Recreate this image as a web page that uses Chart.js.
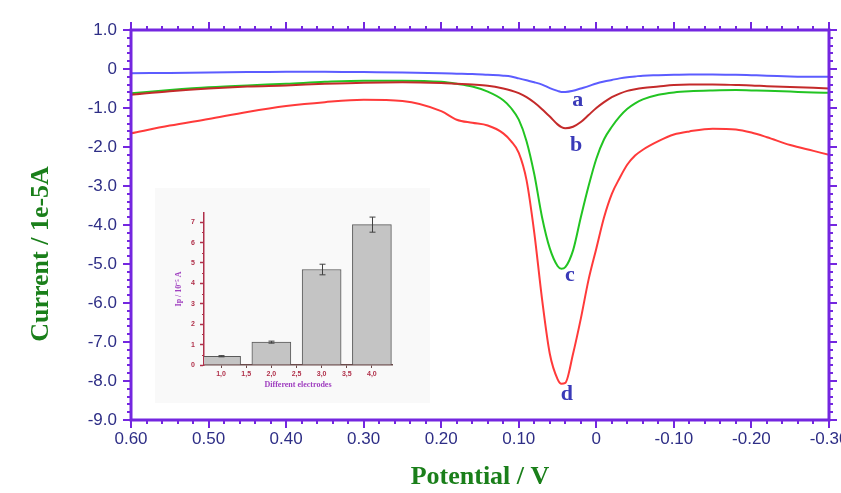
<!DOCTYPE html>
<html>
<head>
<meta charset="utf-8">
<script src="https://cdn.jsdelivr.net/npm/chart.js@4.4.1/dist/chart.umd.min.js"></script>
<style>
  body { margin: 0; background: #fff; }
  #wrap { position: relative; width: 841px; height: 493px; }
  #voltammogram { position: absolute; left: 0; top: 0; }
  #inset-box { position: absolute; left: 155px; top: 188px; width: 275px; height: 215px; background: #f9f9f9; }
  #inset { display: block; }
</style>
</head>
<body>
<div id="wrap">
  <canvas id="voltammogram" width="841" height="493"></canvas>
  <div id="inset-box"><canvas id="inset" width="275" height="215"></canvas></div>
</div>
<script>
// potentials (V) shared by the four voltammograms
var potentials = [0.60, 0.55, 0.50, 0.45, 0.40, 0.35, 0.30, 0.25, 0.20, 0.18, 0.16, 0.14, 0.12, 0.11,
  0.10, 0.09, 0.08, 0.07, 0.06, 0.05, 0.045, 0.04, 0.03, 0.02, 0.01, 0.00, -0.01, -0.02, -0.03,
  -0.04, -0.05, -0.06, -0.08, -0.10, -0.12, -0.15, -0.18, -0.20, -0.22, -0.25, -0.28, -0.30];
// current / 1e-5 A
var curveA = [-0.11, -0.10, -0.09, -0.08, -0.07, -0.07, -0.08, -0.09, -0.11, -0.12, -0.13, -0.15, -0.17, -0.19,
  -0.24, -0.29, -0.34, -0.40, -0.49, -0.56, -0.59, -0.59, -0.56, -0.50, -0.44, -0.37, -0.32, -0.28, -0.24,
  -0.21, -0.19, -0.17, -0.16, -0.15, -0.14, -0.14, -0.15, -0.16, -0.17, -0.19, -0.20, -0.20];
var curveB = [-0.66, -0.57, -0.50, -0.45, -0.42, -0.38, -0.35, -0.34, -0.36, -0.38, -0.40, -0.43, -0.50, -0.55,
  -0.62, -0.72, -0.86, -1.03, -1.22, -1.42, -1.49, -1.52, -1.48, -1.36, -1.18, -1.00, -0.85, -0.72, -0.63,
  -0.56, -0.52, -0.49, -0.45, -0.41, -0.40, -0.40, -0.41, -0.42, -0.44, -0.46, -0.48, -0.50];
var curveC = [-0.62, -0.54, -0.47, -0.42, -0.38, -0.33, -0.30, -0.30, -0.33, -0.38, -0.45, -0.58, -0.80, -1.00,
  -1.30, -1.85, -2.70, -3.80, -4.60, -5.05, -5.12, -5.08, -4.65, -3.80, -3.00, -2.30, -1.80, -1.48, -1.22,
  -1.02, -0.88, -0.78, -0.66, -0.60, -0.57, -0.55, -0.54, -0.55, -0.56, -0.58, -0.60, -0.61];
var curveD = [-1.65, -1.45, -1.28, -1.10, -0.95, -0.85, -0.79, -0.82, -1.08, -1.30, -1.38, -1.45, -1.65, -1.85,
  -2.15, -2.85, -4.20, -5.90, -7.30, -7.95, -8.07, -8.05, -7.30, -6.40, -5.40, -4.60, -3.80, -3.20, -2.80,
  -2.45, -2.22, -2.07, -1.85, -1.68, -1.60, -1.53, -1.55, -1.63, -1.75, -1.95, -2.10, -2.20];

var potentialTicks = [0.6, 0.5, 0.4, 0.3, 0.2, 0.1, 0, -0.1, -0.2, -0.3];
var potentialTickLabels = ['0.60', '0.50', '0.40', '0.30', '0.20', '0.10', '0', '-0.10', '-0.20', '-0.30'];
var currentTicks = [1, 0, -1, -2, -3, -4, -5, -6, -7, -8, -9];
var currentTickLabels = ['1.0', '0', '-1.0', '-2.0', '-3.0', '-4.0', '-5.0', '-6.0', '-7.0', '-8.0', '-9.0'];

// inset: peak current for each electrode
var electrodes = [1, 2, 3, 4];
var peakCurrents = [0.43, 1.12, 4.68, 6.88];
var peakErrors = [0.03, 0.05, 0.26, 0.37];
var electrodeTicks = [1, 1.5, 2, 2.5, 3, 3.5, 4];
var electrodeTickLabels = ['1,0', '1,5', '2,0', '2,5', '3,0', '3,5', '4,0'];
var insetCurrentTicks = [0, 1, 2, 3, 4, 5, 6, 7];
var insetCurrentTickLabels = ['0', '1', '2', '3', '4', '5', '6', '7'];

var AXIS = '#7426e0';
var TICK_TEXT = '#2e2e86';
var TITLE_GREEN = '#1a7f1a';
var INSET_RED = '#b0304a';
var INSET_PURPLE = '#a040c0';

function labelFor(ticks, labels, v) {
  for (var i = 0; i < ticks.length; i++) {
    if (Math.abs(ticks[i] - v) < 1e-9) return labels[i];
  }
  return '';
}

function curve(label, values, color) {
  return {
    label: label,
    data: potentials.map(function (p, i) { return { x: p, y: values[i] }; }),
    borderColor: color,
    borderWidth: 2,
    pointRadius: 0,
    fill: false,
    cubicInterpolationMode: 'monotone'
  };
}

// purple box with minor ticks on all four sides
var frameTicks = {
  id: 'frameTicks',
  afterDraw: function (chart) {
    var ctx = chart.ctx, a = chart.chartArea, x = chart.scales.x, y = chart.scales.y;
    var i, p, len;
    ctx.save();
    ctx.strokeStyle = AXIS;
    ctx.lineWidth = 2;
    ctx.beginPath();
    for (i = 0; i <= 45; i++) {
      p = Math.round(x.getPixelForValue(-0.3 + i * 0.02));
      len = i % 5 === 0 ? 8 : 4;
      ctx.moveTo(p, a.bottom); ctx.lineTo(p, a.bottom + len);
      ctx.moveTo(p, a.top); ctx.lineTo(p, a.top - len);
    }
    for (i = 0; i <= 50; i++) {
      p = Math.round(y.getPixelForValue(-9 + i * 0.2));
      len = i % 5 === 0 ? 8 : 4;
      ctx.moveTo(a.left, p); ctx.lineTo(a.left - len, p);
      ctx.moveTo(a.right, p); ctx.lineTo(a.right + len, p);
    }
    ctx.stroke();
    ctx.lineWidth = 3;
    ctx.strokeRect(a.left, a.top, a.right - a.left, a.bottom - a.top);

    // y title (sits a bit below the middle in the original)
    ctx.fillStyle = TITLE_GREEN;
    ctx.font = "bold 26px 'Liberation Serif', 'Times New Roman', serif";
    ctx.textAlign = 'center';
    ctx.textBaseline = 'middle';
    ctx.translate(41, 254);
    ctx.rotate(-Math.PI / 2);
    ctx.fillText('Current / 1e-5A', 0, 0);
    ctx.restore();
  }
};

// letters a-d next to each peak
var curveNames = ['a', 'b', 'c', 'd'];
var curveNameAt = [[0.024, -0.80], [0.026, -1.96], [0.034, -5.30], [0.038, -8.33]];
var curveLetters = {
  id: 'curveLetters',
  afterDatasetsDraw: function (chart) {
    var ctx = chart.ctx, x = chart.scales.x, y = chart.scales.y;
    ctx.save();
    ctx.fillStyle = '#3a3ab8';
    ctx.font = "bold 22px 'Liberation Serif', 'Times New Roman', serif";
    ctx.textAlign = 'center';
    ctx.textBaseline = 'middle';
    curveNames.forEach(function (n, i) {
      ctx.fillText(n, x.getPixelForValue(curveNameAt[i][0]), y.getPixelForValue(curveNameAt[i][1]));
    });
    ctx.restore();
  }
};

var tickFont = { family: "'Liberation Sans Narrow', 'Liberation Sans', Arial, sans-serif", size: 17 };

new Chart(document.getElementById('voltammogram'), {
  type: 'line',
  data: {
    datasets: [
      curve('a', curveA, '#5c5cff'),
      curve('b', curveB, '#c42a2a'),
      curve('c', curveC, '#22c422'),
      curve('d', curveD, '#ff3a3a')
    ]
  },
  options: {
    responsive: false,
    animation: false,
    layout: { padding: { top: 30, right: 12, left: 0, bottom: 0 } },
    plugins: { legend: { display: false }, tooltip: { enabled: false } },
    scales: {
      x: {
        type: 'linear',
        reverse: true,
        min: -0.3,
        max: 0.6,
        afterBuildTicks: function (s) { s.ticks = potentialTicks.map(function (v) { return { value: v }; }); },
        afterFit: function (s) { s.height = 73; s.paddingLeft = 0; s.paddingRight = 0; },
        grid: { display: false, drawTicks: true, tickLength: 8 },
        border: { display: false },
        ticks: {
          color: TICK_TEXT, font: tickFont, padding: 1, maxRotation: 0, autoSkip: false,
          callback: function (v) { return labelFor(potentialTicks, potentialTickLabels, v); }
        },
        title: {
          display: true, text: 'Potential / V', color: TITLE_GREEN,
          font: { family: "'Liberation Serif', 'Times New Roman', serif", size: 26, weight: 'bold' },
          padding: { top: 0, bottom: 0 }
        }
      },
      y: {
        min: -9,
        max: 1,
        afterBuildTicks: function (s) { s.ticks = currentTicks.map(function (v) { return { value: v }; }); },
        afterFit: function (s) { s.width = 131; s.paddingTop = 0; s.paddingBottom = 0; },
        grid: { display: false, drawTicks: true, tickLength: 8 },
        border: { display: false },
        ticks: {
          color: TICK_TEXT, font: tickFont, padding: 6, autoSkip: false,
          callback: function (v) { return labelFor(currentTicks, currentTickLabels, v); }
        }
      }
    }
  },
  plugins: [curveLetters, frameTicks]
});

// error bars + minor ticks for the inset
var insetExtras = {
  id: 'insetExtras',
  afterDatasetsDraw: function (chart) {
    var ctx = chart.ctx, x = chart.scales.x, y = chart.scales.y, a = chart.chartArea;
    ctx.save();
    ctx.strokeStyle = '#404040';
    ctx.lineWidth = 1;
    ctx.beginPath();
    electrodes.forEach(function (e, i) {
      var px = Math.round(x.getPixelForValue(e)) + 0.5;
      var top = y.getPixelForValue(peakCurrents[i] + peakErrors[i]);
      var bot = y.getPixelForValue(peakCurrents[i] - peakErrors[i]);
      ctx.moveTo(px, top); ctx.lineTo(px, bot);
      ctx.moveTo(px - 3, top); ctx.lineTo(px + 3, top);
      ctx.moveTo(px - 3, bot); ctx.lineTo(px + 3, bot);
    });
    ctx.stroke();
    ctx.strokeStyle = INSET_RED;
    ctx.beginPath();
    for (var v = 0.5; v < 7.4; v += 1) {
      var py = Math.round(y.getPixelForValue(v)) + 0.5;
      ctx.moveTo(a.left, py); ctx.lineTo(a.left - 2, py);
    }
    ctx.stroke();
    ctx.restore();
  }
};

var insetFont = { family: "'Liberation Sans', Arial, sans-serif", size: 7, weight: 'bold' };
var insetTitleFont = { family: "'Liberation Serif', 'Times New Roman', serif", size: 8, weight: 'bold' };

new Chart(document.getElementById('inset'), {
  type: 'bar',
  data: {
    datasets: [{
      data: electrodes.map(function (e, i) { return { x: e, y: peakCurrents[i] }; }),
      backgroundColor: '#c4c4c4',
      borderColor: '#5a5a5a',
      borderWidth: 1,
      barThickness: 39
    }]
  },
  options: {
    responsive: false,
    animation: false,
    layout: { padding: { top: 25, right: 38, left: 0, bottom: 0 } },
    plugins: { legend: { display: false }, tooltip: { enabled: false } },
    scales: {
      x: {
        type: 'linear',
        min: 0.66,
        max: 4.4,
        offset: false,
        afterBuildTicks: function (s) { s.ticks = electrodeTicks.map(function (v) { return { value: v }; }); },
        afterFit: function (s) { s.height = 38; s.paddingLeft = 0; s.paddingRight = 0; },
        grid: { offset: false, drawOnChartArea: false, drawTicks: true, tickLength: 3, tickColor: '#6b4a4a' },
        border: { color: '#6b4a4a', width: 1.5 },
        ticks: {
          color: INSET_RED, font: insetFont, padding: 2, maxRotation: 0, autoSkip: false,
          callback: function (v) { return labelFor(electrodeTicks, electrodeTickLabels, v); }
        },
        title: { display: true, text: 'Different electrodes', color: INSET_PURPLE, font: insetTitleFont,
          padding: { top: 0, bottom: 13 } }
      },
      y: {
        min: 0,
        max: 7.45,
        afterBuildTicks: function (s) { s.ticks = insetCurrentTicks.map(function (v) { return { value: v }; }); },
        afterFit: function (s) { s.width = 49; s.paddingTop = 0; s.paddingBottom = 0; },
        grid: { drawOnChartArea: false, drawTicks: true, tickLength: 4, tickColor: INSET_RED, tickWidth: 1.5 },
        border: { color: INSET_RED, width: 1.5 },
        ticks: {
          color: INSET_RED, font: insetFont, padding: 5, autoSkip: false,
          callback: function (v) { return labelFor(insetCurrentTicks, insetCurrentTickLabels, v); }
        },
        title: { display: true, text: 'Ip / 10⁻⁵ A', color: INSET_PURPLE, font: insetTitleFont,
          padding: { top: 19, bottom: 0 } }
      }
    }
  },
  plugins: [insetExtras]
});
</script>
</body>
</html>
